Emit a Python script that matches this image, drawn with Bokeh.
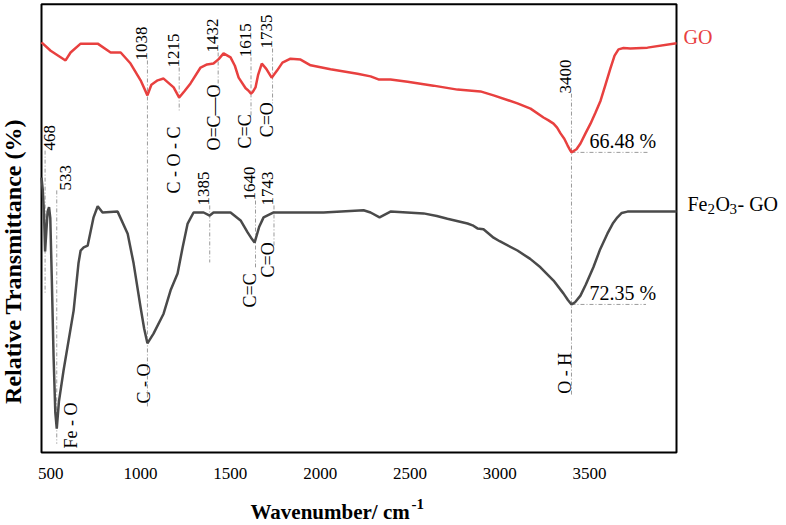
import math
from bokeh.plotting import figure
from bokeh.models import Range1d, Label
from bokeh.core.properties import value
from bokeh.embed import file_html
from bokeh.resources import INLINE

# ---------------- data ----------------
go_wn = [448, 499, 582, 610, 666, 761, 833, 889, 944, 1000, 1038, 1060, 1095, 1128, 1184, 1215,
         1245, 1278, 1334, 1370, 1406, 1435, 1462, 1501, 1525, 1546, 1585, 1600, 1615, 1625, 1640,
         1655, 1675, 1700, 1730, 1760, 1790, 1835, 1891, 1947, 2058, 2208, 2281, 2325, 2392, 2487,
         2631, 2765, 2893, 2966, 3099, 3172, 3244, 3270, 3300, 3320, 3339, 3360, 3378, 3390, 3400,
         3428, 3450, 3478, 3506, 3534, 3562, 3590, 3617, 3640, 3662, 3690, 3728, 3823, 3985]
go_t = [92.8, 90.9, 88.7, 90.5, 92.5, 92.5, 90.5, 90.5, 88.0, 84.2, 80.8, 83.2, 84.2, 84.6, 82.6, 80.3,
        81.8, 83.5, 87.1, 87.8, 88.0, 89.0, 90.3, 89.4, 87.5, 84.8, 82.4, 81.9, 81.2, 81.6, 82.6,
        85.5, 88.0, 86.8, 84.8, 86.4, 88.2, 89.1, 88.9, 87.6, 86.7, 85.7, 85.1, 84.4, 84.4, 83.9,
        83.0, 82.1, 81.7, 80.8, 79.0, 77.8, 75.8, 75.2, 74.4, 73.5, 72.2, 71.0, 69.5, 68.6, 67.9,
        68.6, 69.9, 72.2, 74.4, 76.9, 79.6, 83.3, 86.9, 89.8, 91.2, 91.5, 91.4, 91.6, 92.6]

fe_wn = [448, 455, 462, 468, 475, 482, 490, 497, 505, 515, 525, 533, 545, 571, 627, 654, 666, 683,
         705, 738, 761, 788, 872, 928, 961, 1000, 1020, 1038, 1072, 1128, 1167, 1206, 1234, 1262,
         1295, 1351, 1385, 1406, 1501, 1557, 1596, 1615, 1635, 1660, 1685, 1741, 1947, 2019, 2242,
         2281, 2331, 2392, 2576, 2650, 2709, 2821, 2849, 2876, 2910, 2966, 3000, 3099, 3170, 3227,
         3300, 3355, 3380, 3400, 3420, 3450, 3480, 3522, 3560, 3600, 3630, 3656, 3680, 3712, 3784, 3985]
fe_t = [62.2, 59.5, 54.0, 45.5, 50.0, 54.5, 55.5, 53.0, 40.0, 22.0, 9.0, 5.4, 11.5, 18.6, 32.1, 42.8,
        45.7, 46.4, 46.8, 53.2, 55.7, 54.3, 54.5, 49.5, 42.8, 32.8, 28.0, 24.7, 26.9, 31.4, 36.7,
        40.5, 46.4, 51.8, 54.3, 54.3, 53.6, 54.3, 54.3, 52.5, 49.8, 48.6, 47.5, 51.0, 53.2, 54.3,
        54.3, 54.3, 54.8, 54.3, 53.2, 54.5, 54.1, 53.5, 52.9, 51.8, 51.4, 50.7, 50.5, 48.6, 47.8,
        45.7, 43.8, 41.9, 38.9, 36.0, 34.5, 33.5, 34.0, 35.5, 38.0, 41.9, 46.0, 49.5, 51.8, 53.2,
        54.2, 54.5, 54.5, 54.5]

x_ticks = [500, 1000, 1500, 2000, 2500, 3000, 3500]

# peak position labels
peak_text = ["1038", "1215", "1432", "1615", "1735", "3400", "468", "533", "1385", "1640", "1743"]
peak_wn = [1038, 1215, 1432, 1615, 1735, 3400, 468, 533, 1385, 1640, 1743]
# bond assignment labels
bond_text = ["C - O - C", "O=C\u2014O", "C=C", "C=O", "C - O", "C=C", "C=O", "O - H", "Fe - O"]
bond_wn = [1215, 1432, 1615, 1735, 1038, 1640, 1743, 3400, 533]

pct_text = ["66.48 %", "72.35 %"]
pct_wn = [3400, 3400]
pct_t = [67.9, 33.5]

# ---------------- layout constants ----------------
SERIF = "Liberation Serif"
RED = "#e8403f"
GREY = "#4a4a4a"
DASH = "#9a9a9a"
W, H = 784, 523
BOX_L, BOX_R, BOX_B, BOX_T = 448, 3985, 0.0, 101.4   # plot box in data units
PX_X = (BOX_R - BOX_L) / 635.0                      # wavenumber per pixel
PX_Y = 1 / 4.42                                     # units per pixel
ROT_SHIFT = -6                                      # baseline correction (px)
HOR_SHIFT = 7

peak_label_y = [88.7, 87.1, 90.5, 89.4, 91.4, 81.2, 68.3, 59.3, 55.9, 57.0, 55.9]
peak_label_dx = [0, 0, 0, 0, 0, 0, 10, 15, 0, 0, 0]
line_top = [88.7, 87.1, 90.5, 89.4, 91.4, 81.2, 68.3, 59.3, 55.9, 57.0, 55.9]
line_bot = [10.2, 77.4, 81.9, 76.2, 79.0, 12.9, 36.0, 2.0, 43.0, 41.9, 46.8]
bond_label_y = [58.6, 68.3, 68.8, 71.3, 11.1, 32.8, 39.6, 13.3, 0.9]
bond_label_dx = [1, 2, 0, 0, 3, 0, 0, 0, 20]

p = figure(width=W, height=H, output_backend="svg", toolbar_location=None,
           x_axis_location=None, y_axis_location=None,
           x_range=Range1d(BOX_L - 41 * PX_X, BOX_L + (W - 41) * PX_X),
           y_range=Range1d(BOX_B - (H - 452) * PX_Y, BOX_B + 452 * PX_Y),
           min_border=0)
p.grid.visible = False
p.outline_line_color = None
p.background_fill_color = "white"
p.border_fill_color = "white"

# plot box
p.quad(left=[BOX_L], right=[BOX_R], bottom=[BOX_B], top=[BOX_T], fill_color=None,
       line_color="black", line_width=2)

# x tick labels
p.text(x=x_ticks, y=[BOX_B - 21 * PX_Y] * len(x_ticks), text=[str(t) for t in x_ticks],
       text_align="center", text_baseline="middle", text_font=value(SERIF),
       text_font_size="17px", text_color="black")

# dashed guide lines
p.segment(x0=peak_wn, y0=line_top, x1=peak_wn, y1=line_bot,
          line_color=DASH, line_width=1, line_dash="4 2 1 2")
p.segment(x0=pct_wn, y0=pct_t, x1=[3825, 3815], y1=pct_t,
          line_color=DASH, line_width=1, line_dash="4 2 1 2")

# spectra
p.line(go_wn, go_t, line_color=RED, line_width=2.5)
p.line(fe_wn, fe_t, line_color=GREY, line_width=2.5)

# rotated labels
for t, x, y, dx in zip(peak_text, peak_wn, peak_label_y, peak_label_dx):
    p.add_layout(Label(x=x, y=y, x_offset=dx + ROT_SHIFT, text=t, angle=math.pi / 2,
                       text_align="left", text_baseline="alphabetic", text_font=SERIF,
                       text_font_size="17px", text_color="black"))
for t, x, y, dx in zip(bond_text, bond_wn, bond_label_y, bond_label_dx):
    p.add_layout(Label(x=x, y=y, x_offset=dx + ROT_SHIFT, text=t, angle=math.pi / 2,
                       text_align="left", text_baseline="alphabetic", text_font=SERIF,
                       text_font_size="18px", text_color="black"))
for t, x, y in zip(pct_text, pct_wn, pct_t):
    p.add_layout(Label(x=x, y=y, x_offset=18, y_offset=4 + HOR_SHIFT, text=t, text_align="left",
                       text_baseline="alphabetic", text_font=SERIF, text_font_size="20px",
                       text_color="black"))

# series names right of the box
p.add_layout(Label(x=BOX_R, y=go_t[-1], x_offset=7, y_offset=-1 + HOR_SHIFT, text="GO",
                   text_font=SERIF, text_font_size="20px", text_color=RED,
                   text_baseline="alphabetic"))
fe_pieces = [("Fe", 0, 0, "20px"), ("2", 20, -5, "15px"), ("O", 28, 0, "20px"),
             ("3", 42, -5, "15px"), ("- GO", 50, 0, "20px")]
for t, dx, dy, fs in fe_pieces:
    p.add_layout(Label(x=BOX_R, y=fe_t[-1], x_offset=11 + dx, y_offset=1 + dy + HOR_SHIFT,
                       text=t, text_font=SERIF, text_font_size=fs, text_color="black",
                       text_baseline="alphabetic"))

# axis titles
p.add_layout(Label(x=BOX_L + 209 * PX_X, y=BOX_B - 67 * PX_Y, y_offset=8,
                   text="Wavenumber/ cm", text_font=SERIF, text_font_size="21px",
                   text_font_style="bold", text_color="black", text_baseline="alphabetic"))
p.add_layout(Label(x=BOX_L + 209 * PX_X, y=BOX_B - 67 * PX_Y, x_offset=161, y_offset=16,
                   text="-1", text_font=SERIF, text_font_size="15px", text_font_style="bold",
                   text_color="black", text_baseline="alphabetic"))
p.add_layout(Label(x=BOX_L - 19 * PX_X, y=BOX_B + 191 * PX_Y, x_offset=-10,
                   text="Relative Transmittance (%)", angle=math.pi / 2, text_align="center",
                   text_baseline="alphabetic", text_font=SERIF, text_font_size="24px",
                   text_font_style="bold", text_color="black"))

open("out.html", "w").write(file_html(p, INLINE))
